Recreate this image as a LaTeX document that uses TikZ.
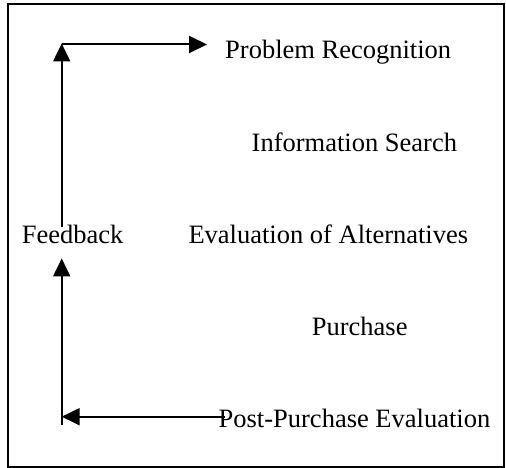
\documentclass[tikz,border=0pt]{standalone}
\usepackage{fontspec}
\setmainfont{Liberation Serif}
\usetikzlibrary{arrows.meta,calc}

\begin{document}
\begin{tikzpicture}[x=1pt, y=-1pt,
  stage/.style={font=\fontsize{26.5}{30}\selectfont, inner sep=0pt, anchor=base west},
  flow/.style={line width=2pt, -{Triangle[length=18pt,width=17pt]}}]
\useasboundingbox (0,0) rectangle (506,468);
\draw[line width=1.3pt] (8,4) rectangle (504,467);
\foreach \n/\x/\y/\t in {prob/225/58.5/Problem Recognition,
    info/251.5/151.5/Information Search,
    evalt/188.3/243/Evaluation of Alternatives,
    fb/21.7/243/Feedback,
    purch/311.7/335/Purchase,
    post/218.5/427/Post-Purchase Evaluation} {
  \node[stage] (\n) at (\x,\y) {\t};
}
\coordinate (lowcorner) at (61.7,416.7);
\coordinate (topcorner) at (61.7,44.5);
\draw[flow] ([xshift=6pt]post.west |- lowcorner) -- (lowcorner);
\draw[flow] ([yshift=-8pt]lowcorner) -- ([yshift=-15pt]lowcorner |- fb.south);
\draw[flow] ([yshift=-3pt]lowcorner |- fb.north) -- ([yshift=1pt]topcorner);
\draw[flow] (topcorner) -- ([xshift=-18pt]prob.west |- topcorner);
\end{tikzpicture}
\end{document}
